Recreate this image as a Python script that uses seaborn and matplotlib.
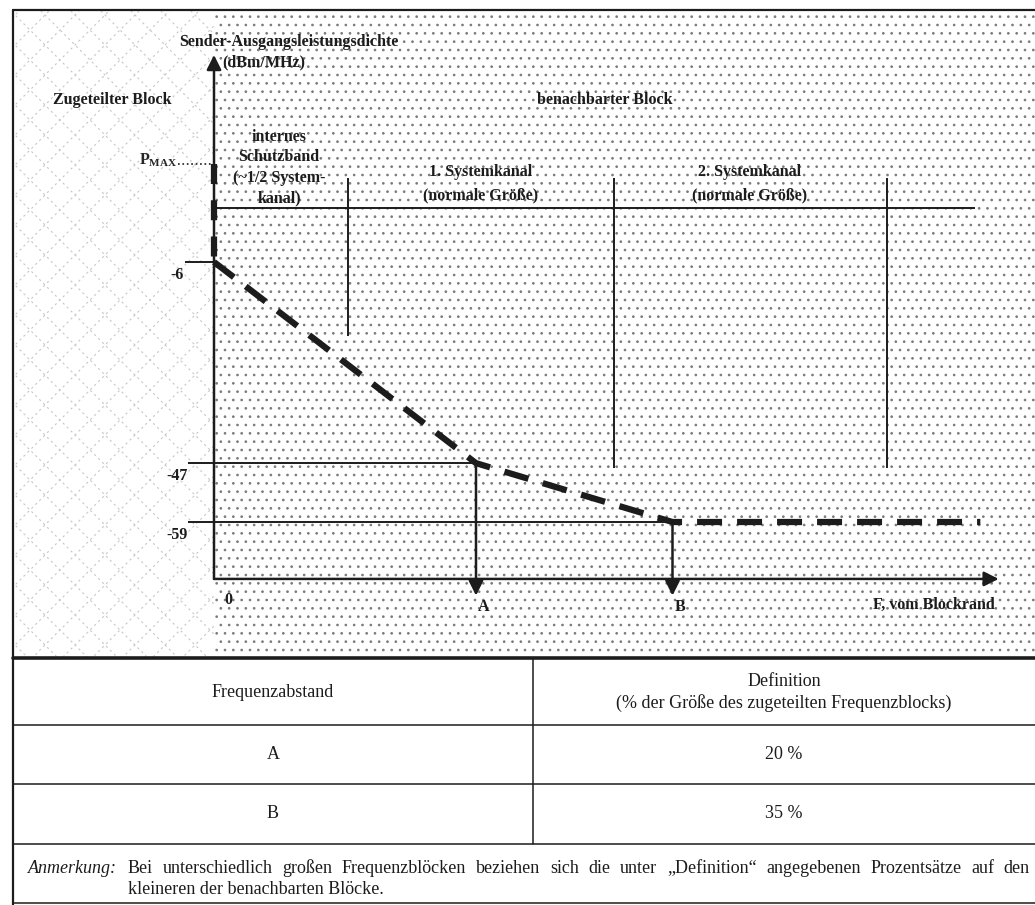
import numpy as np
import matplotlib.pyplot as plt
import matplotlib.patches as mpatches
import seaborn as sns

# Leistungspegel in dBm/MHz (P_MAX nur schematisch)
p_max = 14
level_values = [-6, -47, -59]
level_labels = ["-6", "-47", "-59"]

# Frequenzabstand vom Blockrand, % der Blockgröße
offset_names = ["A", "B"]
offset_pct = [20, 35]
offset_levels = [-47, -59]
offset_text = ["20 %", "35 %"]

# Maske: 0 -> A -> B -> Ende der Achse
mask_x = [0, 20, 35, 58.5]
mask_y = [-6, -47, -59, -59]

# Kanalgrenzen (Schutzband, 1. und 2. Systemkanal)
channel_edges = [10.2, 30.5, 51.4]
channel_bottoms = [-21, -48, -48]
channel_top = 11.1
channel_level = 5.0
f_end = 59.9
y_top = 36.2
floor = -70.6
arrow_tip = -74.0

note_1 = ("Bei unterschiedlich großen Frequenzblöcken beziehen sich die unter "
          "„Definition“ angegebenen Prozentsätze auf den")
note_2 = "kleineren der benachbarten Blöcke."

sns.set_style("white")
plt.rcParams["font.family"] = ["Liberation Serif", "DejaVu Serif"]
plt.rcParams["mathtext.fontset"] = "custom"
plt.rcParams["mathtext.rm"] = "Liberation Serif:bold"
plt.rcParams["hatch.linewidth"] = 0.7

W, H = 1035, 905
fig = plt.figure(figsize=(W / 100, H / 100), dpi=100)

# Layout-Achse in Pixeln (Rahmen, Hintergrund, Tabelle)
lay = fig.add_axes([0, 0, 1, 1])
lay.set_xlim(0, W)
lay.set_ylim(H, 0)
lay.axis("off")

# zugeteilter Block: helles Kreuzraster
left_box = mpatches.Rectangle((13, 10), 201, 647, fill=False, lw=0)
lay.add_patch(left_box)
for c in np.arange(-660, 900, 30):
    for sgn in (1, -1):
        ln, = lay.plot([0, 700], [c, c + sgn * 700], color="#c8c8c8", lw=0.8,
                       linestyle=(0, (2, 3)))
        ln.set_clip_path(left_box)

# benachbarter Block: Punktraster
lay.add_patch(mpatches.Rectangle((214, 10), 821, 647, fill=False, hatch="..",
                                 edgecolor="#7a7a7a", lw=0))

k = "#1c1c1c"
lay.plot([13, 13], [10, 905], color=k, lw=1.6)
lay.plot([13, 1035], [10, 10], color=k, lw=1.6)
lay.plot([13, 1035], [658, 658], color=k, lw=2.6)
for yy in [725, 784, 844, 903]:
    lay.plot([13, 1035], [yy, yy], color=k, lw=1.1)
lay.plot([533, 533], [658, 844], color=k, lw=1.1)

bold = dict(fontsize=11.5, fontweight="bold", color=k)
lay.text(179, 42, "Sender-Ausgangsleistungsdichte", ha="left", va="center", **bold)
lay.text(222, 62, "(dBm/MHz)", ha="left", va="center", **bold)
lay.text(112, 100, "Zugeteilter Block", ha="center", va="center", **bold)
lay.text(605, 100, "benachbarter Block", ha="center", va="center", **bold)
lay.text(279, 137, "internes", ha="center", va="center", **bold)
lay.text(279, 157, "Schutzband", ha="center", va="center", **bold)
lay.text(279, 178, "(~1/2 System-", ha="center", va="center", **bold)
lay.text(279, 198, "kanal)", ha="center", va="center", **bold)
lay.text(481, 172, "1. Systemkanal", ha="center", va="center", **bold)
lay.text(481, 195, "(normale Größe)", ha="center", va="center", **bold)
lay.text(750, 172, "2. Systemkanal", ha="center", va="center", **bold)
lay.text(750, 195, "(normale Größe)", ha="center", va="center", **bold)
lay.text(995, 605, "F, vom Blockrand", ha="right", va="center", **bold)

# Tabelle
tab = dict(fontsize=13, color=k)
lay.text(273, 692, "Frequenzabstand", ha="center", va="center", **tab)
lay.text(784, 681, "Definition", ha="center", va="center", **tab)
lay.text(784, 703, "(% der Größe des zugeteilten Frequenzblocks)", ha="center", va="center", **tab)
for i, (name, txt) in enumerate(zip(offset_names, offset_text)):
    yy = 754 + i * 59
    lay.text(273, yy, name, ha="center", va="center", **tab)
    lay.text(784, yy, txt, ha="center", va="center", **tab)
lay.text(28, 873, "Anmerkung:", ha="left", va="baseline", fontstyle="italic", **tab)

# erste Zeile der Anmerkung im Blocksatz
renderer = fig.canvas.get_renderer()
words = [lay.text(0, 873, w, ha="left", va="baseline", **tab) for w in note_1.split()]
widths = [t.get_window_extent(renderer).width for t in words]
gap = (1030 - 128 - sum(widths)) / (len(words) - 1)
xpos = 128
for t, w in zip(words, widths):
    t.set_x(xpos)
    xpos += w + gap
lay.text(128, 894, note_2, ha="left", va="baseline", **tab)

# Datenachse: x in % der Blockgröße, y in dBm/MHz
ax = fig.add_axes([0, 0, 1, 1])
ax.set_xlim(-214 / 13.1, (W - 214) / 13.1)
ax.set_ylim(-6 - (H - 262) / 4.906, -6 + 262 / 4.906)
ax.patch.set_alpha(0)
ax.axis("off")

arr = dict(arrowstyle="-|>", color=k, lw=1.8, mutation_scale=22, shrinkA=0, shrinkB=0)
ax.annotate("", xy=(0, y_top), xytext=(0, floor), arrowprops=arr)
ax.annotate("", xy=(f_end, floor), xytext=(0, floor), arrowprops=arr)

# Kanalgrenzen
ax.hlines(channel_level, 0, 58.1, color=k, lw=1.4)
ax.vlines(channel_edges, channel_bottoms, channel_top, color=k, lw=1.4)

# Pegelmarken
ax.hlines(p_max, -2.75, 0, color=k, lw=1.2, linestyles=":")
ax.text(-2.75, p_max + 0.8, r"$\mathrm{P_{MAX}}$", ha="right", va="center", fontsize=11.5)
ax.hlines(level_values[0], -2.2, 0, color=k, lw=1.4)
for x, lvl in zip(offset_pct, offset_levels):
    ax.hlines(lvl, -2.0, x, color=k, lw=1.4)
for lvl, lab in zip(level_values, level_labels):
    ax.annotate(lab, xy=(0, lvl), xytext=(-37, -13), textcoords="offset pixels",
                ha="center", va="center", **bold)
ax.annotate("0", xy=(0, floor), xytext=(14, -21), textcoords="offset pixels",
            ha="center", va="center", **bold)

# Pfeile zu A und B
for x, lvl, name in zip(offset_pct, offset_levels, offset_names):
    ax.annotate("", xy=(x, arrow_tip), xytext=(x, lvl), arrowprops=arr)
    ax.annotate(name, xy=(x, floor), xytext=(8, -28), textcoords="offset pixels",
                ha="center", va="center", **bold)

# Maske (gestrichelt)
ax.plot([0, 0], [p_max, level_values[0]], color=k, lw=4.5,
        linestyle=(0, (3.2, 2.6)), solid_capstyle="butt")
sns.lineplot(x=mask_x, y=mask_y, ax=ax, color=k, lw=4.5, sort=False,
             linestyle=(0, (4, 2.4)))

fig.savefig("out.png", dpi=100)
